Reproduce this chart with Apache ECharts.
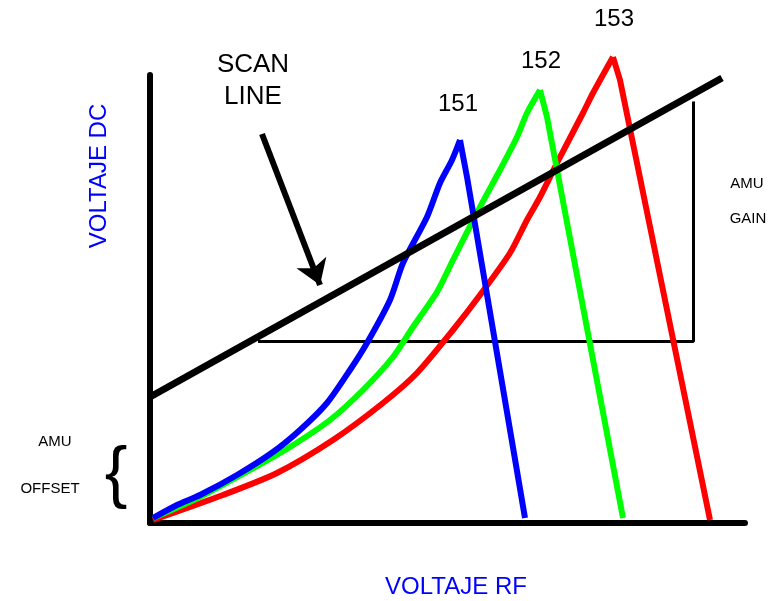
<!DOCTYPE html>
<html>
<head>
<meta charset="utf-8">
<script src="https://cdn.jsdelivr.net/npm/echarts@6/dist/echarts.min.js"></script>
<style>html,body{margin:0;padding:0;background:#fff;}#c{width:779px;height:601px;}</style>
</head>
<body>
<div id="c"></div>
<script>
// Curves: [RF voltage, DC voltage] in arbitrary units
// Rising part (smooth) and falling part (straight) of each mass peak
var blue151Rise = [[3,5],[27,18],[50,28],[87,48],[123,71],[150,93],[177,120],[200,153],[217,180],[240,223],[253,260],[277,306],[290,340],[302,363],[310,383]];
var blue151Fall = [[310,383],[317,346],[375,5]];
var green152Rise = [[3,5],[50,26],[100,53],[140,76],[180,103],[213,133],[243,166],[263,196],[287,231],[303,263],[330,316],[350,353],[367,386],[377,410],[390,433]];
var green152Fall = [[390,433],[397,406],[473,5]];
var red153Rise = [[3,3],[73,28],[127,50],[183,83],[233,120],[267,150],[303,193],[330,228],[360,270],[377,303],[390,326],[407,360],[433,410],[443,430],[463,466]];
var red153Fall = [[463,466],[470,443],[560,3]];
var scanLine = [[0,126],[572,445]];
var gainBracket = [[108,181.5],[543.5,181.5],[543.5,421.5]];
var arrowLine = [[112,389],[170,238]];
var peakLabels = ['151','152','153'];
var axisTitles = ['VOLTAJE RF','VOLTAJE DC'];

var FONT = '"Liberation Sans", Arial, sans-serif';
var chart = echarts.init(document.getElementById('c'), null, {renderer:'canvas'});

function txt(t, x, y, size, color, rot) {
  return {type:'text', x:x, y:y, rotation: rot || 0,
    style:{text:t, font: size + 'px ' + FONT, fill: color || '#000', textAlign:'center', textVerticalAlign:'middle'}};
}
function curve(data, color, z, smooth) {
  return {type:'line', data:data, symbol:'none', clip:false, smooth: smooth ? 0.25 : false,
    lineStyle:{color:color, width:6, join:'round'}, z:z};
}

var axisCommon = {
  type:'value', axisTick:{show:false}, axisLabel:{show:false}, splitLine:{show:false},
  axisLine:{show:true, onZero:false, lineStyle:{color:'#000', width:6, cap:'round'}}
};

chart.setOption({
  animation:false,
  backgroundColor:'#fff',
  grid:{left:150, right:34, top:75, bottom:78},
  xAxis: Object.assign({}, axisCommon, {min:0, max:595}),
  yAxis: Object.assign({}, axisCommon, {min:0, max:448}),
  series:[
    {type:'line', data:gainBracket, symbol:'none', clip:false, lineStyle:{color:'#000', width:3}, z:2},
    curve(red153Rise, '#ff0000', 3, true),
    curve(red153Fall, '#ff0000', 3, false),
    curve(green152Rise, '#00ff00', 4, true),
    curve(green152Fall, '#00ff00', 4, false),
    curve(blue151Rise, '#0000ff', 5, true),
    curve(blue151Fall, '#0000ff', 5, false),
    {type:'line', data:scanLine, symbol:'none', clip:false, lineStyle:{color:'#000', width:7}, z:6},
    {type:'lines', coordinateSystem:'cartesian2d', clip:false, symbol:['none','arrow'], symbolSize:24,
      lineStyle:{color:'#000', width:6, opacity:1}, data:[{coords:arrowLine}], z:7}
  ],
  graphic:[
    txt(peakLabels[0], 458, 104, 24),
    txt(peakLabels[1], 541, 61, 24),
    txt(peakLabels[2], 614, 19, 24),
    txt('SCAN', 253, 65, 26),
    txt('LINE', 253, 97, 26),
    txt(axisTitles[0], 456, 587, 24, '#0000ff'),
    txt(axisTitles[1], 99, 176, 24, '#0000ff', Math.PI/2),
    txt('AMU', 55, 442, 15),
    txt('OFFSET', 50, 489, 15),
    txt('{', 116, 476, 68),
    txt('AMU', 747, 184, 15),
    txt('GAIN', 748, 219, 15)
  ]
});
</script>
</body>
</html>
